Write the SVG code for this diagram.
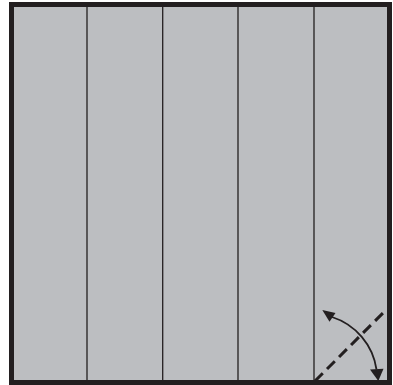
<svg xmlns="http://www.w3.org/2000/svg" width="393" height="385" viewBox="0 0 393 385">
  <style>
    .panel { stroke: #231f20; stroke-width: 1.3; fill: none; }
    .frame { fill: none; stroke: #231f20; stroke-width: 5; }
    .dash { stroke: #231f20; stroke-width: 3; stroke-dasharray: 11 6; fill: none; }
    .arc { stroke: #231f20; stroke-width: 1.8; fill: none; }
    .head { fill: #231f20; }
  </style>
  <rect width="393" height="385" fill="#ffffff"/>
  <g id="door">
    <rect x="11.5" y="4.5" width="378" height="378" fill="#bcbec1"/>
    <g id="panels">
      <line class="panel" x1="87" y1="7" x2="87" y2="380"/>
      <line class="panel" x1="162.7" y1="7" x2="162.7" y2="380"/>
      <line class="panel" x1="238" y1="7" x2="238" y2="380"/>
      <line class="panel" x1="314" y1="7" x2="314" y2="380"/>
    </g>
  </g>
  <g id="connectors">
    <line class="dash" x1="315" y1="381" x2="385" y2="311"/>
    <path class="arc" d="M332,317 A65 65 0 0 1 376.5,369.5"/>
    <polygon class="head" points="322.3,310 335.5,313 329.5,321.8"/>
    <polygon class="head" points="378.3,381 370,369.5 383.5,368.8"/>
  </g>
  <rect class="frame" x="11.5" y="4.5" width="378" height="378"/>
</svg>
